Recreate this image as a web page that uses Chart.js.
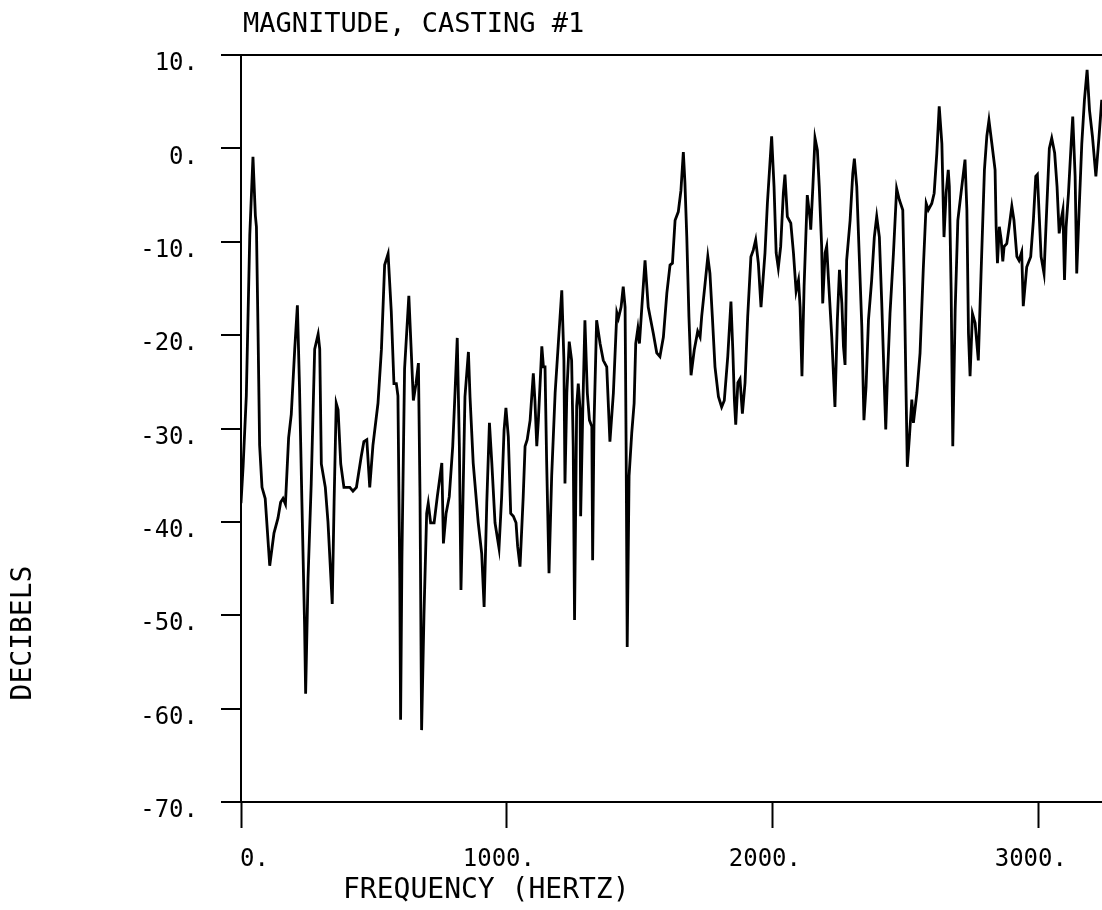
<!DOCTYPE html>
<html>
<head>
<meta charset="utf-8">
<title>Magnitude, Casting #1</title>
<script src="https://cdn.jsdelivr.net/npm/chart.js@4.4.1/dist/chart.umd.min.js"></script>
<style>
    html, body { margin: 0; padding: 0; background: #fff; }
    #wrap { width: 1102px; height: 910px; position: relative; }
</style>
</head>
<body>
<div id="wrap"><canvas id="magChart" width="1102" height="910"></canvas></div>
<script>
// Frequency (Hz) and magnitude (dB)
const freqHz = [
    0, 8, 20, 33, 45, 54, 58, 64, 70, 79, 91, 108, 124, 139, 149, 158, 167, 179, 189, 202,
    212, 220, 229, 239, 243, 252, 264, 277, 290, 296, 302, 317, 327, 343, 350, 358, 365, 375, 387, 409,
    421, 434, 452, 462, 473, 484, 496, 515, 528, 540, 553, 565, 575, 584, 590, 597, 600, 605, 615, 631,
    642, 648, 658, 667, 673, 679, 688, 698, 704, 713, 726, 738, 755, 761, 771, 783, 796, 805, 813, 821,
    827, 834, 842, 855, 861, 873, 892, 905, 914, 924, 934, 943, 955, 970, 980, 989, 996, 1005, 1014, 1024,
    1034, 1040, 1049, 1061, 1068, 1076, 1087, 1099, 1105, 1112, 1118, 1131, 1137, 1143, 1149, 1158, 1168, 1181, 1193, 1206,
    1214, 1218, 1225, 1234, 1243, 1249, 1254, 1262, 1268, 1275, 1277, 1285, 1293, 1302, 1310, 1319, 1322, 1327, 1337, 1350,
    1362, 1375, 1387, 1400, 1413, 1419, 1429, 1437, 1444, 1448, 1452, 1459, 1469, 1478, 1484, 1492, 1498, 1507, 1519, 1531,
    1550, 1563, 1575, 1588, 1601, 1613, 1622, 1632, 1644, 1654, 1663, 1669, 1676, 1684, 1692, 1704, 1717, 1726, 1732, 1745,
    1755, 1763, 1772, 1782, 1795, 1807, 1817, 1830, 1842, 1849, 1855, 1860, 1868, 1876, 1885, 1895, 1905, 1917, 1926, 1935,
    1945, 1955, 1970, 1979, 1995, 2004, 2012, 2020, 2029, 2039, 2045, 2054, 2067, 2077, 2087, 2096, 2102, 2109, 2117, 2129,
    2140, 2142, 2150, 2158, 2167, 2174, 2183, 2187, 2196, 2202, 2208, 2221, 2233, 2242, 2250, 2259, 2265, 2271, 2277, 2290,
    2300, 2306, 2315, 2324, 2334, 2342, 2350, 2359, 2371, 2381, 2390, 2400, 2409, 2418, 2424, 2430, 2440, 2453, 2465, 2475,
    2488, 2494, 2500, 2505, 2513, 2522, 2528, 2541, 2553, 2565, 2576, 2584, 2597, 2606, 2616, 2625, 2635, 2643, 2651, 2659,
    2663, 2670, 2676, 2685, 2695, 2707, 2722, 2729, 2735, 2741, 2750, 2760, 2772, 2782, 2795, 2804, 2812, 2823, 2835, 2839,
    2844, 2851, 2858, 2864, 2869, 2879, 2888, 2898, 2906, 2917, 2925, 2935, 2941, 2954, 2969, 2979, 2988, 2994, 3000, 3008,
    3019, 3029, 3039, 3048, 3059, 3068, 3076, 3083, 3090, 3096, 3102, 3111, 3121, 3127, 3136, 3142, 3151, 3161, 3171, 3181,
    3190, 3201, 3214, 3226, 3236
];
const magDb = [
    -38, -34, -26.5, -9.3, -0.9, -7.2, -8.4, -19.5, -31.8, -36.3, -37.5, -44.7, -41.2, -39.6, -37.9, -37.5, -38.1, -31, -28.5, -21.5,
    -16.8, -25.6, -37.9, -51, -58.4, -46.1, -35.9, -21.5, -19.9, -21.5, -33.8, -36.3, -40, -48.8, -37.9, -27.3, -28, -33.8, -36.3, -36.3,
    -36.7, -36.3, -33, -31.4, -31.2, -36.3, -31.8, -27.3, -21.5, -12.5, -11.3, -17.5, -25.2, -25.2, -26.5, -46.1, -61.2, -44, -23.6, -15.8,
    -23, -27, -25.2, -23, -37.3, -62.3, -49.8, -39.1, -38, -40.1, -40.1, -37.3, -33.7, -42.3, -39.1, -37.3, -31.9, -25.9, -20.3, -31.9,
    -47.3, -38.4, -26.6, -21.8, -26.6, -33.7, -40.1, -43.4, -49.1, -38, -29.4, -33.7, -40.1, -42.8, -37.3, -30.2, -27.8, -30.9, -39.1, -39.4,
    -40.1, -42.6, -44.8, -37.3, -31.9, -31.2, -29.1, -24.1, -27, -31.9, -29.1, -21.2, -23.4, -23.4, -33.4, -45.5, -35.1, -26.2, -20.9, -15.2,
    -22.7, -35.9, -26.2, -20.7, -22.7, -31.9, -50.5, -27.6, -25.2, -28, -39.4, -28, -18.4, -26.2, -29.1, -29.8, -44.1, -29.8, -18.4, -20.9,
    -22.7, -23.4, -31.4, -26.2, -17.6, -18.2, -17, -14.8, -17, -32.3, -53.4, -35.1, -30.5, -27.3, -20.9, -19.3, -20.9, -17, -12, -17,
    -19.8, -21.9, -22.3, -20.2, -15.5, -12.5, -12.3, -7.7, -6.8, -4.5, -0.4, -3.7, -9.5, -18, -24.3, -21.6, -19.6, -20.2, -18, -14.4,
    -11.6, -13.4, -18, -23.4, -26.6, -27.7, -27, -22.3, -16.4, -21.6, -27, -29.6, -25.1, -24.7, -28.4, -25.1, -18, -11.6, -10.9, -9.8,
    -12.3, -17, -11.2, -5.9, 1.3, -4.1, -11.2, -12.8, -10.5, -4.8, -2.8, -7.3, -8, -11.2, -15.3, -14.1, -17, -24.4, -14.8, -5,
    -7.7, -8.7, -4.1, 1.1, -0.2, -4.1, -10.5, -16.6, -11.2, -10.5, -13.7, -20.2, -27.7, -18.4, -13, -16.6, -21.2, -23.2, -12, -7.7,
    -2.7, -1.1, -4.1, -11.2, -19.1, -29.1, -25.5, -18.4, -14.1, -9.5, -7.3, -9.5, -16.6, -24.8, -30.1, -24.8, -17.7, -11.2, -4.3, -5.5,
    -6.6, -14.8, -25.5, -34.1, -30.9, -26.9, -29.4, -26.2, -21.9, -13, -5.9, -6.6, -5.9, -4.8, -0.5, 4.5, 0.5, -9.5, -4.8, -2.3,
    -4.1, -15.5, -31.9, -17.3, -7.7, -4.8, -1.2, -6.6, -19.8, -24.4, -17.7, -18.7, -22.7, -13.7, -2.3, 1.3, 3, 0.5, -2.3, -8.4,
    -12.3, -8.4, -9.8, -12.1, -10.5, -10.2, -8.4, -6.2, -7.7, -11.6, -12, -11.1, -16.9, -12.7, -11.6, -7.7, -3, -2.8, -6.6, -11.6,
    -13.4, -6.6, 0, 1.1, -0.5, -4.1, -9.1, -7.7, -6.6, -14.1, -8.4, -4.8, 0.5, 3.4, -3, -13.4, -6.6, 0.5, 5.2, 8.4,
    4.1, 1.3, -3, 1.3, 5.2
];

// Axis ranges and tick positions
const freqRange = [0, 3237];
const freqTicks = [0, 1000, 2000, 3000];
const dbRange = [-70, 10];
const dbStep = 10;

const titleText = 'MAGNITUDE, CASTING #1';
const xTitleText = 'FREQUENCY (HERTZ)';
const yTitleText = 'DECIBELS';

const plotFont = '"DejaVu Sans Mono", "Liberation Mono", monospace';

// Titles are placed like the plotter output, away from Chart.js defaults
const plotterText = {
    id: 'plotterText',
    afterDraw(chart) {
        const ctx = chart.ctx;
        ctx.save();
        ctx.fillStyle = '#000';
        ctx.textBaseline = 'middle';
        ctx.font = '27px ' + plotFont;
        ctx.textAlign = 'left';
        ctx.fillText(titleText, 243, 25);
        ctx.font = '28px ' + plotFont;
        ctx.fillText(xTitleText, 343, 891);
        ctx.translate(24, 633);
        ctx.rotate(-Math.PI / 2);
        ctx.textAlign = 'center';
        ctx.fillText(yTitleText, 0, 0);
        ctx.restore();
    }
};

const points = freqHz.map((f, i) => ({ x: f, y: magDb[i] }));

new Chart(document.getElementById('magChart').getContext('2d'), {
    type: 'line',
    data: {
        datasets: [{
            label: 'Magnitude',
            data: points,
            borderColor: '#000',
            borderWidth: 2.8,
            pointRadius: 0,
            tension: 0,
            fill: false
        }]
    },
    options: {
        responsive: false,
        animation: false,
        layout: { padding: { top: 55, left: 0, right: 0, bottom: 0 } },
        plugins: {
            legend: { display: false },
            tooltip: { enabled: false }
        },
        scales: {
            x: {
                type: 'linear',
                min: freqRange[0],
                max: freqRange[1],
                afterBuildTicks: (scale) => { scale.ticks = freqTicks.map(v => ({ value: v })); },
                afterFit: (scale) => {
                    scale.height = 108;
                    scale.paddingLeft = 0;
                    scale.paddingRight = 0;
                },
                border: { display: true, color: '#000', width: 2 },
                grid: { drawOnChartArea: false, drawTicks: true, tickLength: 26, tickColor: '#000', tickWidth: 2 },
                ticks: {
                    align: 'end',
                    labelOffset: 28,
                    padding: 17,
                    color: '#000',
                    font: { family: plotFont, size: 24 },
                    callback: (v) => v + '.'
                }
            },
            y: {
                type: 'linear',
                min: dbRange[0],
                max: dbRange[1],
                afterFit: (scale) => { scale.width = 241; },
                border: { display: true, color: '#000', width: 2 },
                grid: {
                    drawOnChartArea: true,
                    color: (c) => (c.tick && c.tick.value === dbRange[1]) ? '#000' : 'rgba(0,0,0,0)',
                    lineWidth: 2,
                    drawTicks: true,
                    tickLength: 20,
                    tickColor: '#000',
                    tickWidth: 2
                },
                ticks: {
                    stepSize: dbStep,
                    labelOffset: 9,
                    padding: 23,
                    color: '#000',
                    font: { family: plotFont, size: 24 },
                    callback: (v) => v + '.'
                }
            }
        }
    },
    plugins: [plotterText]
});
</script>
</body>
</html>
